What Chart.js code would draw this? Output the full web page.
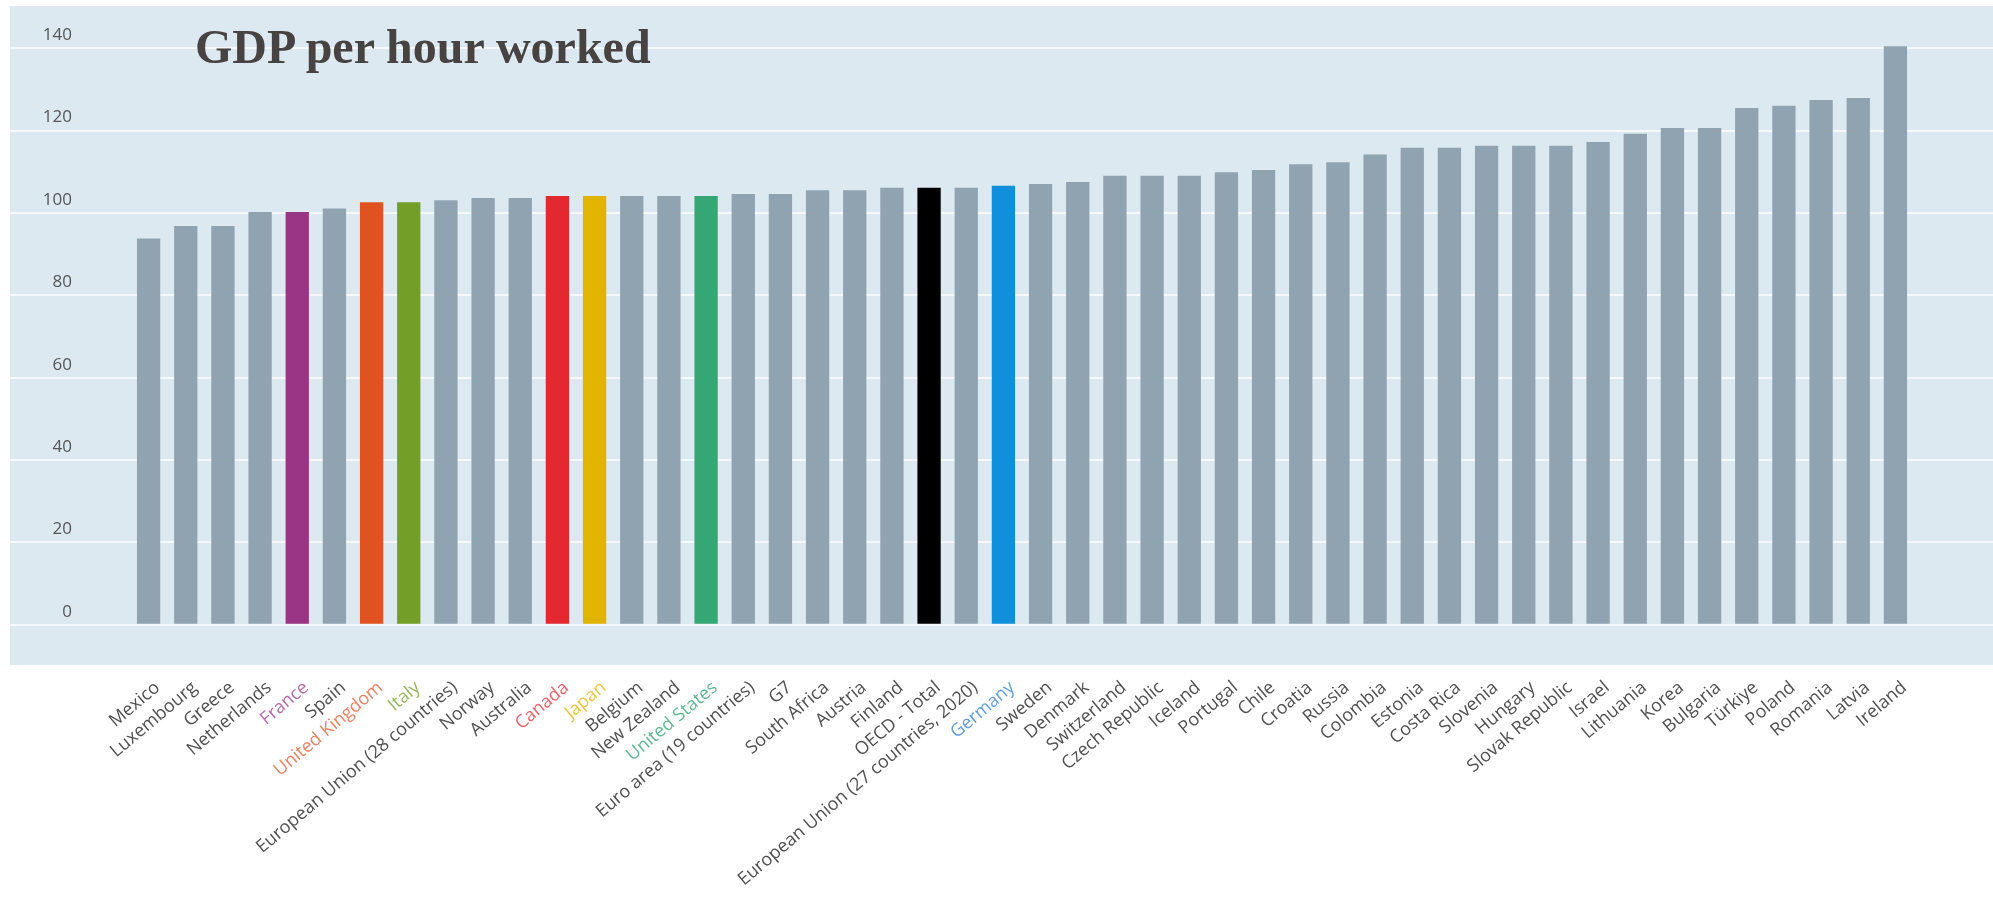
<!DOCTYPE html>
<html>
<head>
<meta charset="utf-8">
<script src="https://cdn.jsdelivr.net/npm/chart.js@4.4.1/dist/chart.umd.min.js"></script>
<style>
  body { margin: 0; background: #fff; overflow: hidden; }
  #wrap { position: relative; width: 1993px; height: 901px; }
  #panel { position: absolute; left: 10px; top: 6px; width: 1983px; height: 659px; background: #dde9f1; }
  #chart { position: absolute; left: 0; top: 0; }
  #title {
    position: absolute; left: 195px; top: 23px;
    font: bold 48px "Liberation Serif", "Times New Roman", serif;
    line-height: 48px; color: #474343; white-space: nowrap;
  }
</style>
</head>
<body>
<div id="wrap">
  <div id="panel"></div>
  <canvas id="chart" width="1993" height="901"></canvas>
  <div id="title">GDP per hour worked</div>
</div>
<script>
const countries = [
  "Mexico", "Luxembourg", "Greece", "Netherlands", "France", "Spain",
  "United Kingdom", "Italy", "European Union (28 countries)", "Norway", "Australia",
  "Canada", "Japan", "Belgium", "New Zealand", "United States",
  "Euro area (19 countries)", "G7", "South Africa", "Austria", "Finland",
  "OECD - Total", "European Union (27 countries, 2020)", "Germany", "Sweden",
  "Denmark", "Switzerland", "Czech Republic", "Iceland", "Portugal", "Chile",
  "Croatia", "Russia", "Colombia", "Estonia", "Costa Rica", "Slovenia",
  "Hungary", "Slovak Republic", "Israel", "Lithuania", "Korea", "Bulgaria",
  "Türkiye", "Poland", "Romania", "Latvia", "Ireland"
];

const gdpPerHour = [
  93.8, 96.8, 96.8, 100.2, 100.2, 101.1,
  102.6, 102.6, 103.1, 103.6, 103.6,
  104.1, 104.1, 104.1, 104.1, 104.1,
  104.6, 104.6, 105.5, 105.5, 106.1,
  106.1, 106.1, 106.6, 107.0,
  107.5, 109.0, 109.0, 109.0, 109.9, 110.4,
  111.8, 112.3, 114.2, 115.8, 115.8, 116.3,
  116.3, 116.3, 117.2, 119.2, 120.6, 120.6,
  125.5, 126.0, 127.4, 127.9, 140.5
];

const yTicks = [0, 20, 40, 60, 80, 100, 120, 140];

// highlighted bars: [bar colour, label colour]
const highlight = {
  "France":         ["#9a3585", "#b86aa8"],
  "United Kingdom": ["#e0521f", "#ec8062"],
  "Italy":          ["#739f29", "#97b860"],
  "Canada":         ["#e4282f", "#ee5f66"],
  "Japan":          ["#e1b400", "#ecc540"],
  "United States":  ["#35a775", "#62b990"],
  "OECD - Total":   ["#000000", "#505050"],
  "Germany":        ["#1090dc", "#5e9fe0"]
};
const BAR_GREY = "#8fa4b0";
const LABEL_GREY = "#505050";
const GRID = "#f6f9fb";

const barColors = countries.map(c => highlight[c] ? highlight[c][0] : BAR_GREY);
const labelColors = countries.map(c => highlight[c] ? highlight[c][1] : LABEL_GREY);

// gridlines only at the round values, not at the padded min/max
const useGridTicks = scale => {
  scale.ticks = yTicks.map(v => ({ value: v }));
};

new Chart(document.getElementById("chart"), {
  type: "bar",
  data: {
    labels: countries,
    datasets: [{
      data: gdpPerHour,
      backgroundColor: barColors,
      barPercentage: 0.627,
      categoryPercentage: 1
    }]
  },
  options: {
    responsive: false,
    animation: false,
    devicePixelRatio: 1,
    layout: { padding: { left: 10, top: 7, right: 0, bottom: 0 } },
    plugins: {
      legend: { display: false },
      tooltip: { enabled: false }
    },
    scales: {
      x: {
        grid: { display: false },
        border: { display: false },
        ticks: {
          autoSkip: false,
          minRotation: 40,
          maxRotation: 40,
          padding: 3,
          labelOffset: 9,
          color: ctx => labelColors[ctx.index],
          font: { family: "'Open Sans', sans-serif", size: 18 }
        },
        afterFit: s => { s.height = 235; }
      },
      y: {
        min: -10,
        max: 150,
        ticks: {
          padding: -62,
          labelOffset: -13,
          color: "#555",
          font: { family: "'Open Sans', sans-serif", size: 17 }
        },
        grid: { color: GRID, lineWidth: 2, tickLength: 120, drawTicks: true },
        border: { display: false },
        afterBuildTicks: useGridTicks,
        afterFit: s => { s.width = 120; }
      },
      yRight: {
        position: "right",
        min: -10,
        max: 150,
        ticks: { display: false },
        grid: { color: GRID, lineWidth: 2, tickLength: 79, drawOnChartArea: false },
        border: { display: false },
        afterBuildTicks: useGridTicks,
        afterFit: s => { s.width = 79; }
      }
    }
  }
});
</script>
</body>
</html>
